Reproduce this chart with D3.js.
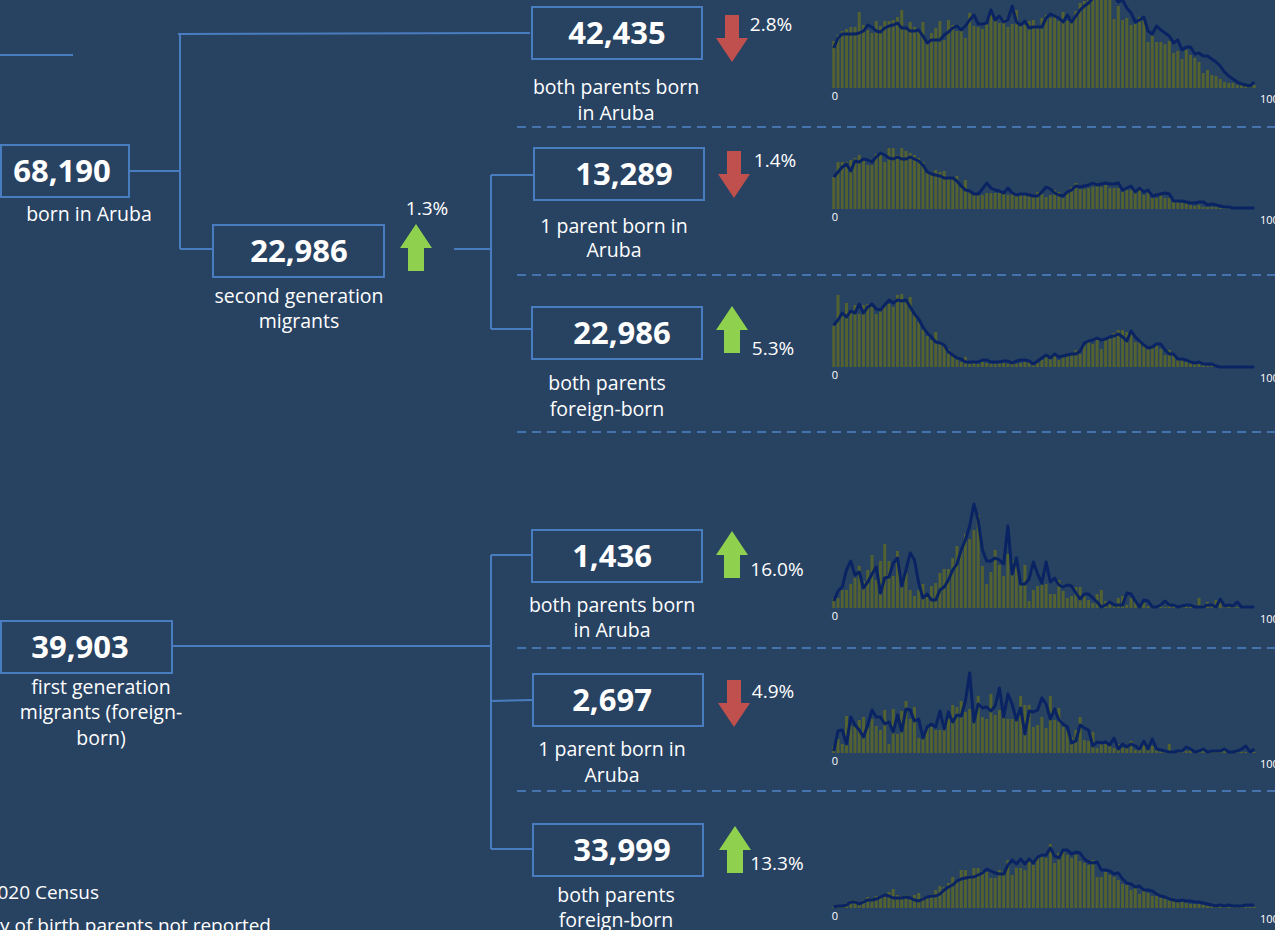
<!DOCTYPE html>
<html>
<head>
<meta charset="utf-8">
<script src="https://cdn.jsdelivr.net/npm/d3@7"></script>
<style>
  body { margin: 0; background: #284262; overflow: hidden; }
  svg { display: block; }
  text { font-family: "Open Sans", "Noto Sans", sans-serif; fill: #fff; }
</style>
</head>
<body>
<div id="chart"></div>
<script>
// tree nodes: labels, totals and % change
var nodeNames = [
  "born in Aruba",
  "second generation\nmigrants",
  "both parents born\nin Aruba",
  "1 parent born in\nAruba",
  "both parents\nforeign-born",
  "first generation\nmigrants (foreign-\nborn)",
  "both parents born\nin Aruba",
  "1 parent born in\nAruba",
  "both parents\nforeign-born"
];
var nodeValues = [68190, 22986, 42435, 13289, 22986, 39903, 1436, 2697, 33999];
var nodeChanges = [null, 1.3, -2.8, -1.4, 5.3, null, 16.0, -4.9, 13.3];

var footNotes = ["Source: 2020 Census", "*Country of birth parents not reported"];

// age 0..99 sparklines (bars = current census, line = previous)
var ages = d3.range(100);
var axisTicks = ["0", "100"];

var s1Bars = [47,53,57,59,61,61,76,63,58,55, 67,62,67,67,68,71,78,60,66,61,
  58,66,45,55,60,67,48,68,63,57, 59,50,75,62,61,59,64,74,67,65,
  69,61,64,78,64,63,67,68,60,70, 73,70,73,67,76,67,70,77,85,87,
  92,95,93,94,92,90,69,82,68,70, 63,64,71,68,46,52,46,46,44,47,
  35,37,29,38,33,30,26,15,18,13, 12,9,6,5,5,3,3,2,1,3];
var s1Line = [40,50,54,54,54,54,55,57,63,61, 57,56,60,62,63,65,60,60,57,57,
  58,52,45,48,48,48,53,56,60,62, 58,62,68,73,64,64,65,78,68,72,
  66,68,82,66,63,67,60,61,61,61, 70,74,72,70,66,73,66,72,78,82,
  85,90,95,98,100,96,92,86,88,80, 75,66,68,71,57,54,62,58,55,52,
  45,48,38,41,41,34,35,32,32,29, 26,22,16,12,9,6,4,3,2,6];

var s2Bars = [32,47,47,47,49,51,54,51,44,44, 55,54,47,61,61,54,61,58,56,54,
  51,47,37,36,39,37,38,32,32,33, 22,29,19,16,14,14,16,16,16,16,
  16,14,15,13,14,14,13,13,17,15, 12,14,19,17,11,17,22,26,20,20,
  21,22,23,22,24,21,21,21,17,19, 19,17,19,14,16,11,11,14,11,11,
  7,7,6,6,4,3,4,2,2,2, 2,1,1,1,0,0,0,0,0,0];
var s2Line = [32,37,42,45,38,48,47,50,49,47, 52,56,54,51,50,52,50,50,52,50,
  48,44,37,35,34,33,31,31,31,28, 23,19,18,15,15,20,26,21,19,18,
  16,21,16,14,15,15,14,13,13,17, 22,20,16,14,13,17,19,23,22,23,
  24,26,24,25,26,25,25,26,19,21, 23,17,21,17,19,13,14,15,16,15,
  8,8,8,7,6,6,7,7,4,5, 4,3,2,2,1,1,1,1,1,1];

var s3Bars = [41,72,51,64,56,62,53,62,63,60, 53,57,62,63,60,72,73,68,70,53,
  45,37,31,27,35,24,22,18,13,10, 5,10,3,5,3,5,4,3,3,4,
  4,3,5,3,4,5,5,3,4,7, 11,8,11,7,12,13,13,17,13,22,
  27,23,27,18,27,30,34,37,37,35, 35,25,25,22,18,20,22,18,12,17,
  12,8,7,5,4,3,3,2,1,1, 1,0,0,0,0,0,0,0,0,0];
var s3Line = [42,47,54,50,56,54,63,54,60,63, 58,57,62,67,64,67,66,67,60,53,
  48,40,34,30,25,24,22,15,12,9, 8,5,5,5,5,7,7,5,5,5,
  6,6,4,6,7,7,6,3,6,9, 12,9,13,10,11,12,13,13,16,24,
  26,27,29,27,28,30,31,33,30,26, 36,30,26,22,19,20,23,23,17,13,
  13,8,8,7,5,4,5,3,3,3, 1,0,0,0,0,0,0,0,0,0];

var s4Bars = [10,10,18,18,24,30,42,27,38,53, 28,47,64,47,32,57,21,35,18,12,
  18,24,12,22,25,35,39,39,50,62, 59,74,69,78,93,42,24,36,58,43,
  32,54,48,42,27,43,7,18,22,23, 24,14,14,28,17,10,12,21,21,12,
  8,5,14,18,7,6,3,10,12,3, 10,6,3,5,2,2,1,2,1,3,
  1,2,1,3,1,2,10,3,6,2, 8,6,3,2,1,1,0,0,0,0];
var s4Line = [7,17,21,38,47,33,36,20,26,34, 41,15,30,31,45,50,22,38,55,48,
  25,10,14,8,8,18,21,28,38,44, 58,68,82,104,88,58,47,47,50,48,
  44,82,34,50,24,24,29,46,34,25, 46,26,30,23,21,23,22,15,9,14,
  14,10,6,1,3,6,3,3,3,15, 14,7,1,8,7,1,1,3,7,3,
  3,1,2,3,3,1,1,1,3,3, 1,9,2,3,2,6,1,1,1,1];

var s5Bars = [7,14,9,37,27,26,33,36,26,34, 27,23,43,9,44,19,42,52,34,46,
  15,15,26,26,23,23,32,34,48,46, 52,41,44,36,57,36,34,59,38,43,
  36,34,34,36,57,48,48,26,28,36, 25,57,33,45,26,23,16,23,36,13,
  12,21,5,9,9,7,5,9,5,6, 12,3,7,12,5,7,5,3,2,9,
  2,2,2,2,5,2,2,2,2,2, 2,2,4,1,1,1,1,1,1,1];
var s5Line = [2,22,23,9,36,28,23,16,28,43, 36,36,29,31,21,38,22,44,43,32,
  34,15,26,29,26,42,24,41,31,38, 37,52,80,31,49,45,46,42,47,65,
  36,59,49,33,45,19,42,41,43,55, 49,34,44,33,29,26,10,12,28,25,
  23,7,11,10,11,8,15,4,9,6, 9,7,4,12,4,14,4,3,2,1,
  1,2,2,6,4,1,2,4,1,2, 2,2,4,1,1,2,4,7,1,4];

var s6Bars = [1,2,3,5,8,8,5,8,11,10, 12,12,13,16,19,13,12,13,10,13,
  15,11,12,14,18,22,21,25,31,28, 38,38,33,40,40,37,36,30,30,38,
  37,48,33,40,40,38,47,43,52,51, 50,64,45,55,58,53,50,53,47,45,
  43,48,31,31,36,33,31,28,24,23, 18,22,14,18,15,12,12,10,9,8,
  9,6,6,5,4,4,4,3,2,2, 2,2,1,1,1,1,1,1,1,1];
var s6Line = [1,2,2,3,6,6,4,6,8,8, 9,11,13,12,10,10,10,11,10,8,
  7,9,11,12,12,14,18,21,23,27, 29,30,31,31,33,35,39,37,35,34,
  34,43,48,44,49,44,49,45,51,53, 53,60,52,50,58,58,54,56,55,49,
  46,45,46,38,38,37,34,35,29,25, 24,21,22,18,18,17,14,12,11,9,
  8,7,8,7,7,6,6,5,4,3, 2,3,2,3,2,2,2,3,3,3];

var sparkBars = [s1Bars, s2Bars, s3Bars, s4Bars, s5Bars, s6Bars];
var sparkLines = [s1Line, s2Line, s3Line, s4Line, s5Line, s6Line];

// ---- layout ----
var W = 1275, H = 930;
var lineColor = "#4a7dbf";

var boxes = [
  {x: 1,   y: 145, w: 128, h: 52, tx: 62,  lx: 89,  ly: [214]},
  {x: 213, y: 225, w: 171, h: 52, tx: 299, lx: 299, ly: [296, 321]},
  {x: 532, y: 7,   w: 170, h: 52, tx: 617, lx: 616, ly: [87, 113]},
  {x: 534, y: 148, w: 170, h: 52, tx: 624, lx: 614, ly: [226, 250]},
  {x: 532, y: 307, w: 170, h: 52, tx: 622, lx: 607, ly: [383, 409]},
  {x: 1,   y: 621, w: 171, h: 52, tx: 80,  lx: 101, ly: [687, 712, 738]},
  {x: 532, y: 530, w: 170, h: 52, tx: 612, lx: 612, ly: [605, 630]},
  {x: 533, y: 674, w: 170, h: 52, tx: 612, lx: 612, ly: [749, 775]},
  {x: 533, y: 824, w: 170, h: 52, tx: 622, lx: 616, ly: [895, 920]}
];
var arrowPos = [null,
  {x: 400, y: 224, px: 427, py: 208},
  {x: 716, y: 15,  px: 771, py: 24},
  {x: 718, y: 151, px: 775, py: 160},
  {x: 716, y: 306, px: 773, py: 348},
  null,
  {x: 716, y: 531, px: 777, py: 569},
  {x: 718, y: 680, px: 773, py: 691},
  {x: 719, y: 826, px: 777, py: 863}
];
var connectors = [
  [[0, 55], [73, 55]],
  [[129, 171], [180, 171]],
  [[180, 34], [180, 249]],
  [[178, 34], [530, 33]],
  [[180, 249], [213, 249]],
  [[454, 249], [491, 249]],
  [[491, 175], [491, 329]],
  [[491, 175], [533, 175]],
  [[491, 329], [533, 329]],
  [[172, 646], [491, 646]],
  [[491, 555], [491, 849]],
  [[491, 555], [533, 555]],
  [[491, 701], [533, 700]],
  [[491, 849], [533, 849]]
];
var dashY = [127, 275, 432, 648, 791];
var sparkBase = [88, 209, 367, 608, 753, 908];

var svg = d3.select("#chart").append("svg")
  .attr("width", W)
  .attr("height", H);

svg.append("rect").attr("width", W).attr("height", H).attr("fill", "#284262");

// tree connectors
svg.append("g").selectAll("line")
  .data(connectors)
  .enter().append("line")
  .attr("x1", d => d[0][0]).attr("y1", d => d[0][1])
  .attr("x2", d => d[1][0]).attr("y2", d => d[1][1])
  .attr("stroke", lineColor)
  .attr("stroke-width", 2);

// dashed separators
svg.append("g").selectAll("line")
  .data(dashY)
  .enter().append("line")
  .attr("x1", 517).attr("x2", W)
  .attr("y1", d => d).attr("y2", d => d)
  .attr("stroke", "#4d84c8")
  .attr("stroke-width", 1.5)
  .attr("stroke-dasharray", "9,6");

// boxes
var fmt = d3.format(",");
var node = svg.append("g").selectAll("g")
  .data(nodeValues)
  .enter().append("g");

node.append("rect")
  .attr("x", (d, i) => boxes[i].x)
  .attr("y", (d, i) => boxes[i].y)
  .attr("width", (d, i) => boxes[i].w)
  .attr("height", (d, i) => boxes[i].h)
  .attr("fill", "none")
  .attr("stroke", lineColor)
  .attr("stroke-width", 2);

node.append("text")
  .attr("x", (d, i) => boxes[i].tx)
  .attr("y", (d, i) => boxes[i].y + boxes[i].h / 2 + 11)
  .attr("text-anchor", "middle")
  .attr("font-size", 31)
  .attr("font-weight", "bold")
  .text(d => fmt(d));

node.each(function (d, i) {
  var lines = nodeNames[i].split("\n");
  var g = d3.select(this);
  lines.forEach(function (ln, j) {
    g.append("text")
      .attr("x", boxes[i].lx)
      .attr("y", boxes[i].ly[j] + 7)
      .attr("text-anchor", "middle")
      .attr("font-size", 19.5)
      .text(ln);
  });
});

// change arrows
function arrowPath(x, y, up) {
  if (up) {
    return `M${x + 16},${y} L${x + 32},${y + 24} L${x + 24},${y + 24} L${x + 24},${y + 47}` +
      ` L${x + 8},${y + 47} L${x + 8},${y + 24} L${x},${y + 24} Z`;
  }
  return `M${x + 9},${y} L${x + 23},${y} L${x + 23},${y + 23} L${x + 32},${y + 23}` +
    ` L${x + 16},${y + 47} L${x},${y + 23} L${x + 9},${y + 23} Z`;
}

nodeChanges.forEach(function (c, i) {
  if (c === null) return;
  var a = arrowPos[i];
  svg.append("path")
    .attr("d", arrowPath(a.x, a.y, c > 0))
    .attr("fill", c > 0 ? "#8fd14f" : "#c0504d");
  svg.append("text")
    .attr("x", a.px)
    .attr("y", a.py + 7)
    .attr("text-anchor", "middle")
    .attr("font-size", 19)
    .attr("fill", "#e8edf3")
    .text(Math.abs(c).toFixed(1) + "%");
});

// sparklines
var x = d3.scaleBand()
  .domain(ages)
  .range([831, 1257])
  .padding(0.3);

sparkBars.forEach(function (bars, k) {
  var base = sparkBase[k];
  var y = d3.scaleLinear().domain([0, 100]).range([base, base - 100]);
  var g = svg.append("g");

  g.selectAll("rect")
    .data(bars)
    .enter().append("rect")
    .attr("x", (d, i) => x(ages[i]))
    .attr("y", d => y(d))
    .attr("width", x.bandwidth())
    .attr("height", d => y(0) - y(d))
    .attr("fill", "#536230");

  var line = d3.line()
    .x((d, i) => x(ages[i]) + x.bandwidth() / 2)
    .y(d => y(d));

  g.append("path")
    .datum(sparkLines[k])
    .attr("d", line)
    .attr("fill", "none")
    .attr("stroke", "#0a2463")
    .attr("stroke-width", 3)
    .attr("stroke-linejoin", "round");

  g.append("text")
    .attr("x", 835).attr("y", base + 12)
    .attr("text-anchor", "middle")
    .attr("font-size", 11)
    .attr("fill", "#dfe5ee")
    .text(axisTicks[0]);
  g.append("text")
    .attr("x", 1260).attr("y", base + 15)
    .attr("font-size", 11)
    .attr("fill", "#dfe5ee")
    .text(axisTicks[1]);
});

// footnotes
svg.append("text")
  .attr("x", 99).attr("y", 899)
  .attr("text-anchor", "end")
  .attr("font-size", 19)
  .text(footNotes[0]);
svg.append("text")
  .attr("x", 271).attr("y", 932)
  .attr("text-anchor", "end")
  .attr("font-size", 19)
  .text(footNotes[1]);
</script>
</body>
</html>
